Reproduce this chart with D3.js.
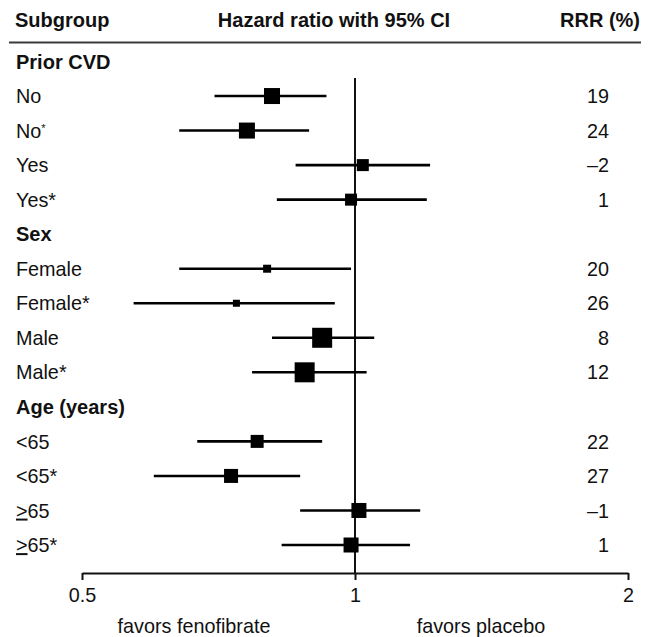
<!DOCTYPE html>
<html>
<head>
<meta charset="utf-8">
<script src="https://cdn.jsdelivr.net/npm/d3@7"></script>
<style>
  html, body { margin: 0; padding: 0; background: #fff; }
  svg { display: block; }
  text { font-family: "Liberation Sans", Arial, Helvetica, sans-serif; fill: #111; }
</style>
</head>
<body>
<svg id="chart" width="648" height="637"></svg>
<script>
// ---- data ----
const rowLabels = ["Prior CVD", "No", "No*", "Yes", "Yes*",
                   "Sex", "Female", "Female*", "Male", "Male*",
                   "Age (years)", "<65", "<65*", "\u226565", "\u226565*"];
const isGroupHeader = [true, false, false, false, false,
                       true, false, false, false, false,
                       true, false, false, false, false];
const studyRows = ["No", "No*", "Yes", "Yes*", "Female", "Female*", "Male", "Male*",
                   "<65", "<65*", "\u226565", "\u226565*"];
const hazardRatio = [0.81, 0.76, 1.02, 0.99, 0.80, 0.74, 0.92, 0.88, 0.78, 0.73, 1.01, 0.99];
const ciLower     = [0.70, 0.64, 0.86, 0.82, 0.64, 0.57, 0.81, 0.77, 0.67, 0.60, 0.87, 0.83];
const ciUpper     = [0.93, 0.89, 1.21, 1.20, 0.99, 0.95, 1.05, 1.03, 0.92, 0.87, 1.18, 1.15];
const weight      = [16, 16, 12, 12, 8, 7, 20, 20, 13, 14, 15, 15];
const rrrPercent  = ["19", "24", "\u20132", "1", "20", "26", "8", "12", "22", "27", "\u20131", "1"];
const tickValues  = [0.5, 1, 2];
const tickLabels  = ["0.5", "1", "2"];
const headers     = ["Subgroup", "Hazard ratio with 95% CI", "RRR (%)"];
const favorLabels = ["favors fenofibrate", "favors placebo"];

// ---- layout ----
const svg = d3.select("#chart");
const x = d3.scaleLog().domain([0.5, 2]).range([82, 628]);
const y = d3.scalePoint().domain(d3.range(rowLabels.length)).range([61.5, 545]);
const size = d3.scaleLinear().domain([0, 20]).range([0, 20]);
const axisY = 573;
const rowIndex = lbl => rowLabels.indexOf(lbl);

const data = studyRows.map((r, i) => ({
  label: r, hr: hazardRatio[i], lo: ciLower[i], hi: ciUpper[i], w: weight[i], rrr: rrrPercent[i]
}));

// headers
svg.append("text").attr("x", 15).attr("y", 27)
  .attr("font-weight", "bold").attr("font-size", 20).text(headers[0]);
svg.append("text").attr("x", 334).attr("y", 27).attr("text-anchor", "middle")
  .attr("font-weight", "bold").attr("font-size", 20).text(headers[1]);
svg.append("text").attr("x", 640).attr("y", 27).attr("text-anchor", "end")
  .attr("font-weight", "bold").attr("font-size", 20).text(headers[2]);
svg.append("line").attr("x1", 9).attr("x2", 641).attr("y1", 42.5).attr("y2", 42.5)
  .attr("stroke", "#3a3a3a").attr("stroke-width", 2.2);

// row labels
svg.append("g").selectAll("text").data(rowLabels).join("text")
  .attr("x", 16)
  .attr("y", (d, i) => y(i))
  .attr("dy", "0.36em")
  .attr("font-size", (d, i) => isGroupHeader[i] ? 20 : 19.8)
  .attr("font-weight", (d, i) => isGroupHeader[i] ? "bold" : "normal")
  .each(function(d) {
    const t = d3.select(this);
    if (d.startsWith("\u2265")) {
      // underlined ">" style used in the original
      t.append("tspan").attr("text-decoration", "underline").text(">");
      t.append("tspan").text(d.slice(1));
    } else if (d === "No*") {
      // small raised asterisk as in the original
      t.append("tspan").text("No");
      t.append("tspan").attr("font-size", 11).attr("dy", "-0.55em").text("*");
    } else {
      t.text(d);
    }
  });

// reference line at HR = 1
svg.append("line")
  .attr("x1", x(1)).attr("x2", x(1))
  .attr("y1", 78).attr("y2", axisY)
  .attr("stroke", "#111").attr("stroke-width", 2);

// CI lines
const g = svg.append("g");
g.selectAll("line.ci").data(data).join("line").attr("class", "ci")
  .attr("x1", d => x(d.lo)).attr("x2", d => x(d.hi))
  .attr("y1", d => y(rowIndex(d.label))).attr("y2", d => y(rowIndex(d.label)))
  .attr("stroke", "#000").attr("stroke-width", 2.6);

// boxes
g.selectAll("rect.box").data(data).join("rect").attr("class", "box")
  .attr("x", d => x(d.hr) - size(d.w) / 2)
  .attr("y", d => y(rowIndex(d.label)) - size(d.w) / 2)
  .attr("width", d => size(d.w)).attr("height", d => size(d.w))
  .attr("fill", "#000");

// RRR values
svg.append("g").selectAll("text").data(data).join("text")
  .attr("x", 609).attr("y", d => y(rowIndex(d.label)))
  .attr("dy", "0.36em").attr("text-anchor", "end")
  .attr("font-size", 19.8).text(d => d.rrr);

// axis
const axis = d3.axisBottom(x)
  .tickValues(tickValues)
  .tickFormat((d, i) => tickLabels[i])
  .tickSize(7).tickSizeOuter(0).tickPadding(8);
const ax = svg.append("g").attr("transform", `translate(0,${axisY})`).call(axis);
ax.select(".domain").attr("stroke", "#111").attr("stroke-width", 2);
ax.selectAll(".tick line").attr("stroke", "#111").attr("stroke-width", 2);
ax.selectAll(".tick text").attr("font-size", 19.8).attr("fill", "#111")
  .attr("font-family", "Liberation Sans, Arial, sans-serif");

// favors labels
svg.append("text").attr("x", 194).attr("y", 633).attr("text-anchor", "middle")
  .attr("font-size", 19.8).text(favorLabels[0]);
svg.append("text").attr("x", 481).attr("y", 633).attr("text-anchor", "middle")
  .attr("font-size", 19.8).text(favorLabels[1]);
</script>
</body>
</html>
